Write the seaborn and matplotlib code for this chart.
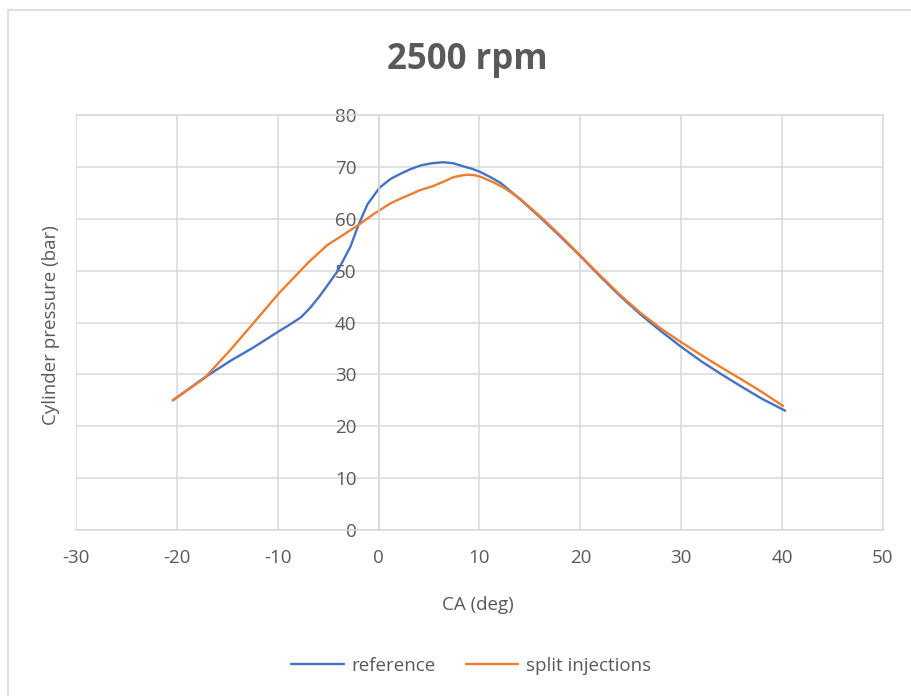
import matplotlib
matplotlib.use("Agg")
import matplotlib.pyplot as plt
import matplotlib.patches as mpatches
import pandas as pd
import seaborn as sns

# Crank angle (deg) and cylinder pressure (bar) for each injection strategy
ca_reference = [-20.4, -17.4, -14.7, -12.4, -9.9, -8.8, -7.7, -6.8, -5.8, -4.1, -2.8,
                -2.0, -1.1, 0.1, 1.2, 2.2, 3.2, 4.2, 5.3, 6.4, 7.4, 8.4, 9.3, 10.1,
                11.1, 12.1, 14, 16, 18, 20, 22, 24, 26, 28, 30, 32, 34, 36, 38, 40.3]
p_reference = [25, 29.2, 32.6, 35.2, 38.3, 39.6, 41.0, 42.8, 45.2, 49.8, 54.6,
               58.8, 62.8, 66.0, 67.7, 68.7, 69.6, 70.3, 70.7, 70.9, 70.7, 70.1,
               69.6, 69.0, 68.0, 66.9, 63.8, 60.3, 56.6, 52.8, 48.8, 45, 41.5,
               38.3, 35.3, 32.5, 30, 27.6, 25.3, 23.0]

ca_split = [-20.4, -17.3, -14.7, -12.4, -9.9, -6.9, -5.1, -3.5, -2, -0.5, 1.2, 2.2,
            4.1, 5.4, 6.5, 7.4, 8.1, 8.8, 9.5, 10.1, 11.4, 12.5, 14, 16, 18, 20,
            22, 24, 26, 28, 30, 32, 34, 36, 38, 40.1]
p_split = [25, 29.2, 34.7, 39.9, 45.6, 51.7, 54.9, 56.9, 58.8, 60.9, 63.0, 63.9,
           65.5, 66.3, 67.2, 68.0, 68.3, 68.5, 68.4, 68.1, 67.0, 65.9, 63.9, 60.5,
           56.8, 52.9, 49, 45.2, 41.8, 38.8, 36.2, 33.7, 31.3, 29.0, 26.6, 23.9]

series_names = ["reference", "split injections"]
x_ticks = [-30, -20, -10, 0, 10, 20, 30, 40, 50]
y_ticks = [0, 10, 20, 30, 40, 50, 60, 70, 80]

df = pd.concat([
    pd.DataFrame({"CA": ca_reference, "p": p_reference, "series": series_names[0]}),
    pd.DataFrame({"CA": ca_split, "p": p_split, "series": series_names[1]}),
], ignore_index=True)

sns.set_theme(style="white")
plt.rcParams["font.family"] = ["Open Sans", "DejaVu Sans"]
plt.rcParams["axes.unicode_minus"] = False

text_color = "#595959"
grid_color = "#d9d9d9"
fs = 13.5

fig = plt.figure(figsize=(9.12, 6.96), dpi=100)
ax = fig.add_axes([76 / 912, 1 - 530 / 696, 807 / 912, 415 / 696])

sns.lineplot(data=df, x="CA", y="p", hue="series", sort=False, estimator=None,
             palette=["#4472C4", "#ED7D31"], linewidth=1.7, ax=ax, legend=True)
for line in ax.lines:
    line.set_solid_joinstyle("round")
    line.set_solid_capstyle("round")

ax.set_xlim(-30, 50)
ax.set_ylim(0, 80)
ax.set_xticks(x_ticks)
ax.set_yticks(y_ticks)
ax.grid(True, color=grid_color, linewidth=1.1)
ax.set_axisbelow(True)

# vertical axis crosses at CA = 0
ax.spines["left"].set_position(("data", 0))
for side in ["left", "right", "top", "bottom"]:
    ax.spines[side].set_color(grid_color)
    ax.spines[side].set_linewidth(1.1)

ax.tick_params(axis="x", length=0, pad=14, labelsize=fs, labelcolor=text_color)
ax.tick_params(axis="y", length=0, pad=16, labelsize=fs, labelcolor=text_color)

ax.set_xlabel("CA (deg)", fontsize=fs, color=text_color)
ax.set_ylabel("Cylinder pressure (bar)", fontsize=fs, color=text_color)
ax.xaxis.set_label_coords(0.498, -0.158)
ax.yaxis.set_label_coords(-0.02, 0.494)

fig.text(467 / 912, 1 - 60 / 696, "2500 rpm", ha="center", va="center",
         fontsize=25, fontweight="bold", color=text_color)

handles, labels = ax.get_legend_handles_labels()
ax.get_legend().remove()
fig.legend(handles, labels, loc="center", bbox_to_anchor=(471 / 912, 1 - 666 / 696),
           ncol=2, frameon=False, fontsize=fs, labelcolor=text_color,
           handlelength=2.8, columnspacing=1.6, handletextpad=0.4)

# chart area outline
fig.patches.append(mpatches.Rectangle((8 / 912, -0.05), 1.0, (696 - 10) / 696 + 0.05,
                                      transform=fig.transFigure, fill=False,
                                      edgecolor=grid_color, linewidth=1.2))

fig.savefig("out.png", dpi=100)
